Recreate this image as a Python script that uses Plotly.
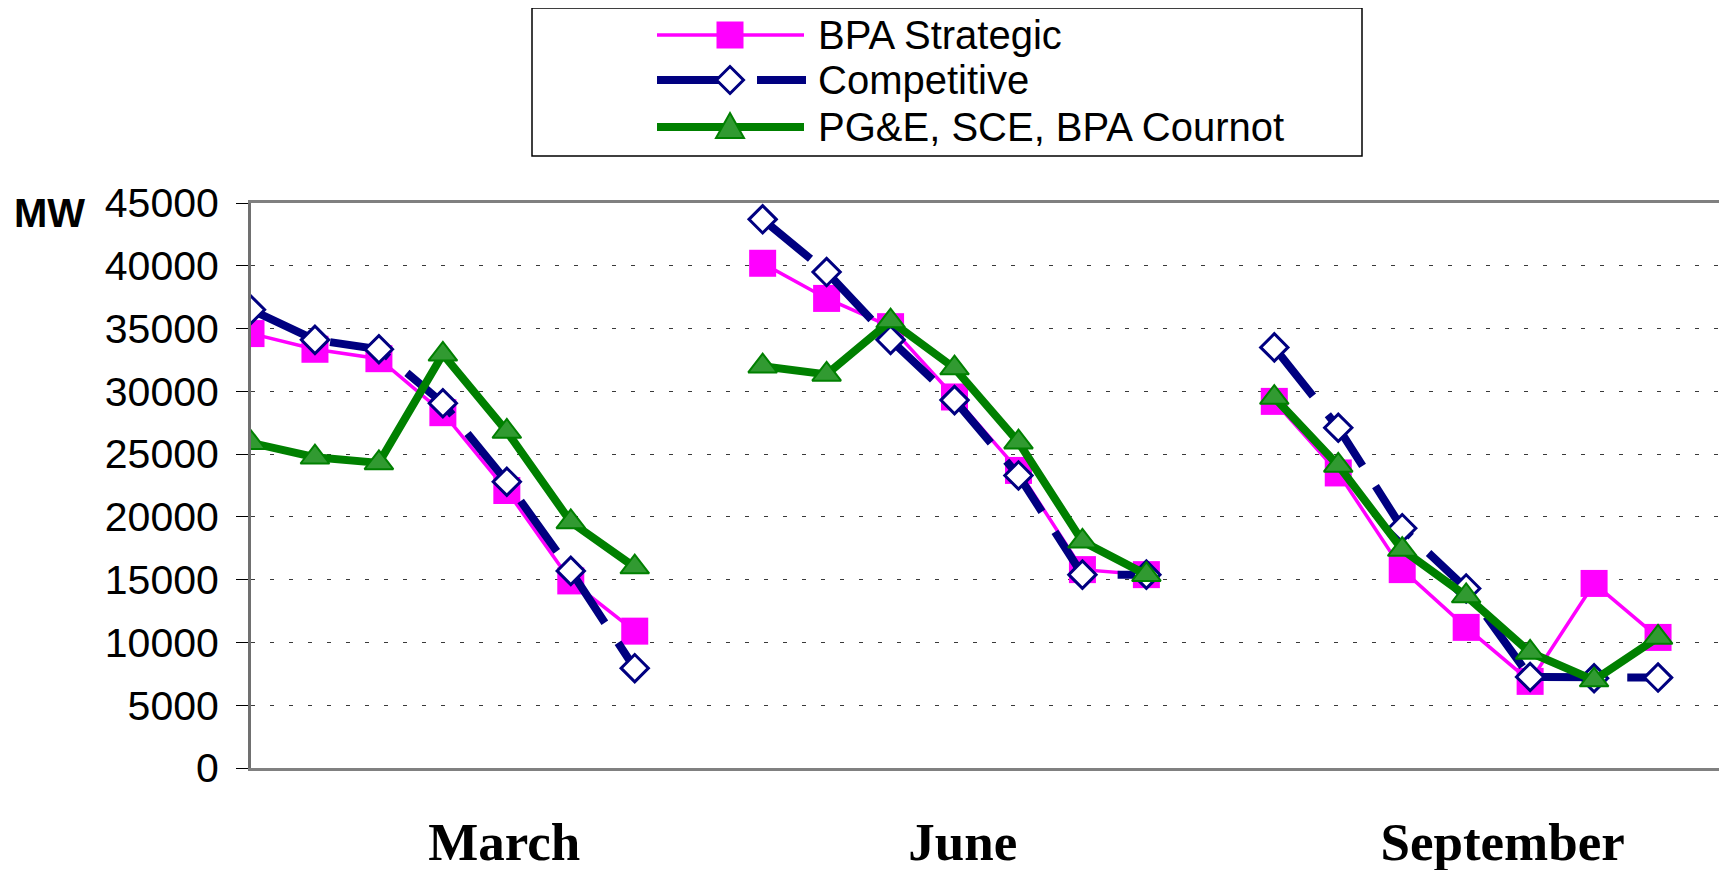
import plotly.graph_objects as go

# ---- data ----
months = ["March", "June", "September"]
points_per_month = 7

bpa_strategic = [
    [34.6, 33.35, 32.6, 28.3, 22.1, 14.9, 10.9],
    [40.2, 37.4, 35.15, 29.55, 23.7, 15.8, 15.4],
    [29.2, 23.5, 15.8, 11.2, 6.9, 14.7, 10.4],
]
competitive = [
    [36.5, 34.1, 33.35, 29.05, 22.8, 15.7, 7.95],
    [43.7, 39.5, 34.1, 29.3, 23.3, 15.4, 15.4],
    [33.5, 27.1, 19.1, 14.3, 7.25, 7.15, 7.2],
]
cournot = [
    [25.9, 24.75, 24.3, 32.95, 26.8, 19.6, 16.0],
    [32.0, 31.35, 35.6, 31.85, 25.95, 18.05, 15.4],
    [29.5, 24.1, 17.4, 13.7, 9.2, 7.0, 10.4],
]
series_names = ["BPA Strategic", "Competitive", "PG&E, SCE, BPA Cournot"]
y_ticks = [0, 5000, 10000, 15000, 20000, 25000, 30000, 35000, 40000, 45000]

# ---- layout constants ----
# the page body has an 8px margin, so the figure starts at (8, 8) in the window
OFF = 8
W, H = 1727 - OFF, 870 - OFF
ML, MR, MT, MB = 251 - OFF, 5, 203 - OFF, 102
PW, PH = W - ML - MR, H - MT - MB
month_label_pos = [3.96, 11.13, 19.57]

MAGENTA, NAVY, GREEN, GREEN_FILL = "#FF00FF", "#000080", "#008000", "#319A31"


def px_to_paper(px, py):
    """window pixel -> paper fraction"""
    return (px - OFF - ML) / PW, (H - MB - (py - OFF)) / PH


def flatten(groups):
    xs, ys = [], []
    for g, vals in enumerate(groups):
        for i, v in enumerate(vals):
            xs.append(g * (points_per_month + 1) + i)
            ys.append(v * 1000)
        if g < len(groups) - 1:
            xs.append(g * (points_per_month + 1) + points_per_month)
            ys.append(None)
    return xs, ys


fig = go.Figure()

x1, y1 = flatten(bpa_strategic)
fig.add_trace(go.Scatter(
    x=x1, y=y1, name=series_names[0], mode="lines+markers", connectgaps=False,
    line=dict(color=MAGENTA, width=3.5),
    marker=dict(symbol="square", size=27, color=MAGENTA, line=dict(width=0)),
))

x2, y2 = flatten(competitive)
fig.add_trace(go.Scatter(
    x=x2, y=y2, name=series_names[1], mode="lines+markers", connectgaps=False,
    line=dict(color=NAVY, width=8, dash="62px,24px"),
    marker=dict(symbol="diamond", size=21, color="#FFFFFF",
                line=dict(color=NAVY, width=3)),
))

x3, y3 = flatten(cournot)
fig.add_trace(go.Scatter(
    x=x3, y=y3, name=series_names[2], mode="lines+markers", connectgaps=False,
    line=dict(color=GREEN, width=8),
    marker=dict(symbol="triangle-up", size=25, color=GREEN_FILL,
                line=dict(color=GREEN, width=2)),
))

# ---- hand-drawn legend (box, samples, text) ----
shapes = []
annotations = []
bx0, by0 = px_to_paper(532, 156)
bx1, by1 = px_to_paper(1362, 8)
shapes.append(dict(type="rect", xref="paper", yref="paper",
                   x0=bx0, x1=bx1, y0=by0, y1=by1,
                   line=dict(color="black", width=1.5), layer="above"))

row_y = [35, 80, 127]
sample_cx = 730
for k, (name, ry) in enumerate(zip(series_names, row_y)):
    ax, ay = px_to_paper(sample_cx, ry)
    common = dict(xref="paper", yref="paper", xsizemode="pixel", ysizemode="pixel",
                  xanchor=ax, yanchor=ay, layer="above")
    if k == 0:
        shapes.append(dict(type="line", x0=-73, x1=74, y0=0, y1=0,
                           line=dict(color=MAGENTA, width=3.5), **common))
        shapes.append(dict(type="rect", x0=-13.5, x1=13.5, y0=-13.5, y1=13.5,
                           line=dict(width=0), fillcolor=MAGENTA, **common))
    elif k == 1:
        shapes.append(dict(type="line", x0=-73, x1=-4, y0=0, y1=0,
                           line=dict(color=NAVY, width=8), **common))
        shapes.append(dict(type="line", x0=27, x1=76, y0=0, y1=0,
                           line=dict(color=NAVY, width=8), **common))
        shapes.append(dict(type="path", path="M0,-13.5 L13.5,0 L0,13.5 L-13.5,0 Z",
                           line=dict(color=NAVY, width=3), fillcolor="white", **common))
    else:
        shapes.append(dict(type="line", x0=-73, x1=74, y0=0, y1=0,
                           line=dict(color=GREEN, width=8), **common))
        shapes.append(dict(type="path", path="M-14,-11 L14,-11 L0,14 Z",
                           line=dict(color=GREEN, width=2), fillcolor=GREEN_FILL, **common))
    tx, ty = px_to_paper(816, ry)
    annotations.append(dict(text=name, xref="paper", yref="paper", x=tx, y=ty,
                            xanchor="left", yanchor="middle", showarrow=False,
                            font=dict(size=40, family="Liberation Sans, Arial, sans-serif",
                                      color="black")))

mx, my = px_to_paper(49, 213)
annotations.append(dict(text="<b>MW</b>", xref="paper", yref="paper", x=mx, y=my,
                        xanchor="center", yanchor="middle", showarrow=False,
                        font=dict(size=40, family="Liberation Sans, Arial, sans-serif",
                                  color="black")))

fig.update_layout(
    width=W, height=H,
    margin=dict(l=ML, r=MR, t=MT, b=MB, autoexpand=False),
    paper_bgcolor="white", plot_bgcolor="white",
    font=dict(family="Liberation Sans, Arial, sans-serif", color="black"),
    showlegend=False,
    xaxis=dict(
        range=[0, 23], showgrid=False, zeroline=False, automargin=False,
        showline=True, linecolor="#808080", linewidth=3, mirror=True,
        tickmode="array", tickvals=month_label_pos, ticktext=months,
        ticks="", ticklabelstandoff=25,
        tickfont=dict(family="Liberation Serif, Times New Roman, serif",
                      size=53, weight="bold", color="black"),
    ),
    yaxis=dict(
        range=[0, 45000], tickmode="array", tickvals=y_ticks, tickformat="d",
        showgrid=True, gridcolor="#3a3a3a", gridwidth=1, griddash="4px,15px",
        zeroline=False, automargin=False,
        showline=True, linecolor="#707070", linewidth=3, mirror=True,
        ticks="outside", ticklen=12, tickcolor="black", tickwidth=1,
        ticklabelstandoff=9,
        tickfont=dict(size=41, family="Liberation Sans, Arial, sans-serif", color="black"),
    ),
    shapes=shapes,
    annotations=annotations,
)

fig.write_html("out.html")
